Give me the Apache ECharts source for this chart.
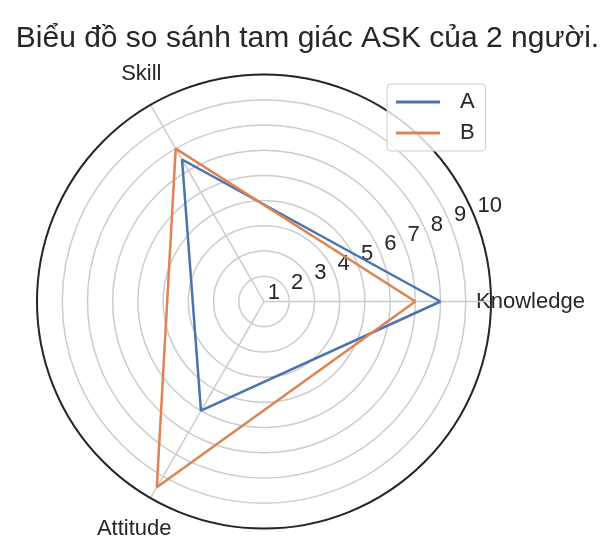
<!DOCTYPE html>
<html>
<head>
<meta charset="utf-8">
<script src="https://cdn.jsdelivr.net/npm/echarts@6/dist/echarts.min.js"></script>
<style>
html,body{margin:0;padding:0;background:#fff;}
#chart{width:615px;height:557px;}
</style>
</head>
<body>
<div id="chart"></div>
<script>
// ---- data ----
const categories = ['Knowledge', 'Skill', 'Attitude'];
const angles = [0, 120, 240];
const seriesNames = ['A', 'B'];
const valuesA = [8, 7.5, 6];
const valuesB = [7, 8, 9.5];
const radialTicks = [1, 2, 3, 4, 5, 6, 7, 8, 9, 10];
const titleText = 'Biểu đồ so sánh tam giác ASK của 2 người.';

function closed(vals) {
  const pts = vals.map((v, i) => [v, angles[i]]);
  pts.push([vals[0], 360]);
  return pts;
}

const FONT = 'Arial, "Liberation Sans", sans-serif';
const TXT = '#262626';
const center = [264, 301.5];
const radius = 227;
const rMin = radialTicks[0], rMax = radialTicks[radialTicks.length - 1];
// label polar: same scale, extended by one step so that the "10" label is not the max label
const labelCenter = [270, 298];
const labelRadius = radius * (rMax + 1 - rMin) / (rMax - rMin);

const richKeys = ['k', 's', 'a'];

const chart = echarts.init(document.getElementById('chart'), null, {renderer: 'canvas'});
chart.setOption({
  animation: false,
  backgroundColor: '#ffffff',
  title: {
    text: titleText,
    left: 'center',
    top: 19,
    textStyle: {fontFamily: FONT, fontSize: 30, fontWeight: 'normal', color: TXT}
  },
  legend: {
    orient: 'vertical',
    left: 387,
    top: 84,
    padding: [7, 11, 7, 9],
    itemGap: 9,
    itemWidth: 44,
    itemHeight: 3,
    icon: 'rect',
    backgroundColor: 'rgba(255,255,255,0.8)',
    borderColor: '#cccccc',
    borderWidth: 1,
    borderRadius: 4,
    textStyle: {fontFamily: FONT, fontSize: 22, color: TXT, padding: [0, 0, 0, 15]},
    data: seriesNames
  },
  polar: [
    {center: center, radius: radius},
    {center: labelCenter, radius: labelRadius}
  ],
  angleAxis: [
    {
      polarIndex: 0,
      type: 'value',
      min: 0, max: 360, interval: 120,
      startAngle: 0,
      clockwise: false,
      axisLine: {show: true, lineStyle: {color: TXT, width: 2}},
      axisTick: {show: false},
      splitLine: {show: true, lineStyle: {color: '#cccccc', width: 1.5}},
      axisLabel: {
        show: true,
        margin: -42,
        fontFamily: FONT, fontSize: 22, color: TXT,
        formatter: function (v) {
          const i = angles.indexOf(v);
          return (i >= 0 && v < 360) ? '{' + richKeys[i] + '|' + categories[i] + '}' : '';
        },
        rich: {
          k: {fontFamily: FONT, fontSize: 22, color: TXT, padding: [0, 0, 0, 27]},
          s: {fontFamily: FONT, fontSize: 22, color: TXT, padding: [0, 10, 56, 0]},
          a: {fontFamily: FONT, fontSize: 22, color: TXT, padding: [56, 0, 0, 0]}
        }
      }
    },
    {
      polarIndex: 1,
      type: 'value',
      min: 0, max: 360,
      startAngle: 22.5,
      clockwise: false,
      show: false
    }
  ],
  radiusAxis: [
    {
      polarIndex: 0,
      type: 'value',
      min: rMin, max: rMax, interval: 1,
      axisLine: {show: false},
      axisTick: {show: false},
      axisLabel: {show: false},
      splitLine: {show: true, lineStyle: {color: '#cccccc', width: 1.5}}
    },
    {
      polarIndex: 1,
      type: 'value',
      min: rMin, max: rMax + 1, interval: 1,
      axisLine: {show: false},
      axisTick: {show: false},
      splitLine: {show: false},
      axisLabel: {
        show: true,
        showMinLabel: true,
        showMaxLabel: false,
        align: 'left',
        fontFamily: FONT, fontSize: 22, color: TXT,
        margin: 6,
        formatter: function (v) { return radialTicks.indexOf(v) >= 0 ? String(v) : ''; }
      }
    }
  ],
  series: [
    {
      name: seriesNames[0], type: 'line', coordinateSystem: 'polar', polarIndex: 0,
      symbol: 'none', color: '#4c72b0',
      lineStyle: {width: 2.5, color: '#4c72b0'},
      data: closed(valuesA)
    },
    {
      name: seriesNames[1], type: 'line', coordinateSystem: 'polar', polarIndex: 0,
      symbol: 'none', color: '#dd8452',
      lineStyle: {width: 2.5, color: '#dd8452'},
      data: closed(valuesB)
    }
  ]
});
</script>
</body>
</html>
